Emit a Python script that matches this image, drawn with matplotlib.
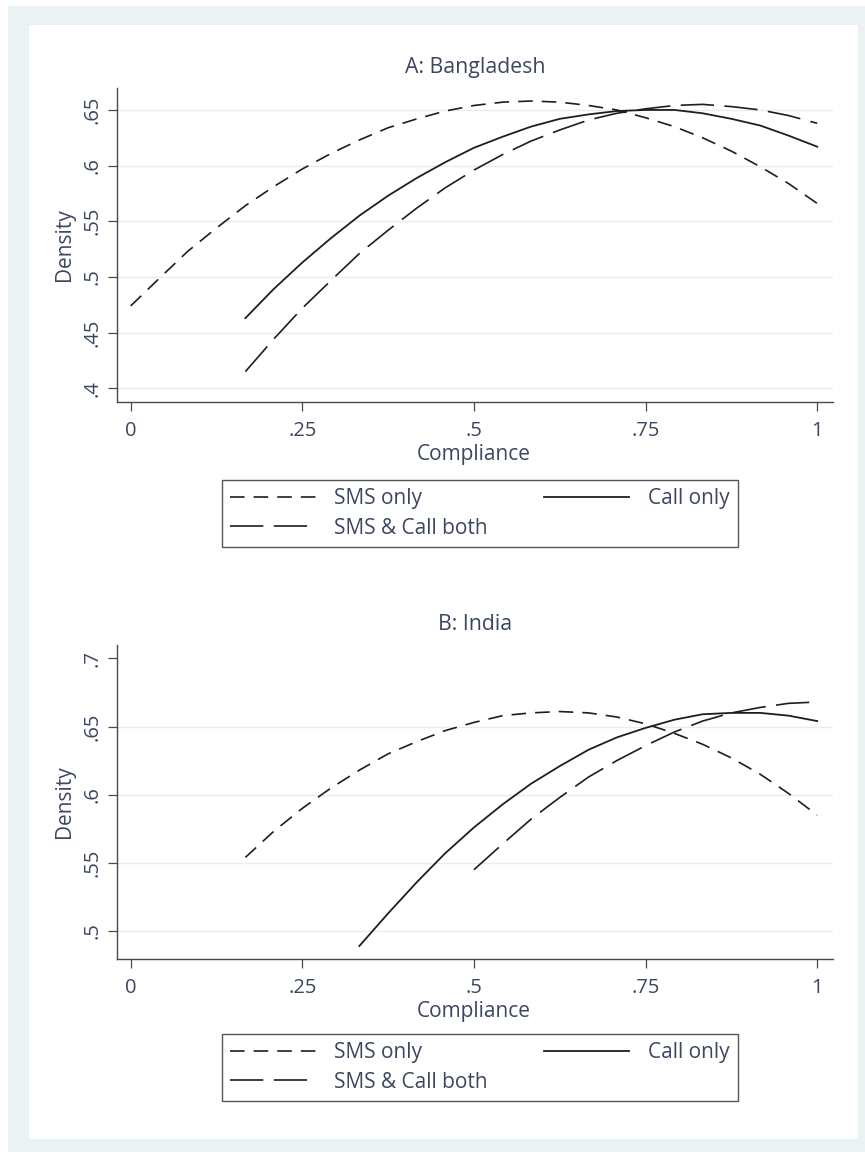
import matplotlib.pyplot as plt
from matplotlib.patches import Rectangle

plt.rcParams['font.family'] = ['Open Sans', 'DejaVu Sans']
plt.rcParams['lines.scale_dashes'] = False

# compliance levels (1/24 steps) the fitted curves were read at
compliance = [0, 0.042, 0.083, 0.125, 0.167, 0.208, 0.25, 0.292, 0.333, 0.375, 0.417, 0.458,
              0.5, 0.542, 0.583, 0.625, 0.667, 0.708, 0.75, 0.792, 0.833, 0.875, 0.917, 0.958, 1]

# A: Bangladesh
bd_sms = [0.474, 0.499, 0.523, 0.544, 0.564, 0.581, 0.597, 0.611, 0.623, 0.634, 0.642, 0.649,
          0.654, 0.657, 0.658, 0.657, 0.654, 0.650, 0.643, 0.635, 0.625, 0.613, 0.599, 0.584, 0.566]
bd_call = [0.463, 0.489, 0.513, 0.535, 0.555, 0.573, 0.589, 0.603, 0.616, 0.626, 0.635,
           0.642, 0.646, 0.649, 0.650, 0.650, 0.647, 0.642, 0.636, 0.627, 0.617]
bd_both = [0.415, 0.444, 0.472, 0.497, 0.521, 0.542, 0.562, 0.580, 0.596, 0.610, 0.622,
           0.632, 0.641, 0.647, 0.651, 0.654, 0.655, 0.653, 0.650, 0.645, 0.638]

# B: India
in_sms = [0.554, 0.573, 0.590, 0.605, 0.618, 0.630, 0.639, 0.647, 0.653, 0.658, 0.660,
          0.661, 0.660, 0.657, 0.652, 0.645, 0.637, 0.627, 0.615, 0.601, 0.585]
in_call = [0.489, 0.513, 0.536, 0.557, 0.576, 0.593, 0.608, 0.621, 0.633, 0.642, 0.649,
           0.655, 0.659, 0.660, 0.660, 0.658, 0.654]
in_both = [0.545, 0.564, 0.582, 0.598, 0.613, 0.625, 0.636, 0.646, 0.654, 0.660, 0.664,
           0.667, 0.668]

x_ticks = [0, 0.25, 0.5, 0.75, 1]
x_tick_labels = ['0', '.25', '.5', '.75', '1']
bd_yticks = [0.4, 0.45, 0.5, 0.55, 0.6, 0.65]
bd_ylabels = ['.4', '.45', '.5', '.55', '.6', '.65']
in_yticks = [0.5, 0.55, 0.6, 0.65, 0.7]
in_ylabels = ['.5', '.55', '.6', '.65', '.7']

text_color = '#3c4660'
grid_color = '#e4edf0'
bg_color = '#eaf2f3'
axis_color = '#4a4a4a'
line_color = '#1e1e1e'

W, H = 865, 1152
fig = plt.figure(figsize=(W / 100, H / 100), dpi=100)
fig.patch.set_facecolor('white')
fig.patches.append(Rectangle((8 / W, 0), 1, 1 - 6 / H, transform=fig.transFigure,
                             facecolor=bg_color, edgecolor='none', zorder=-2))
fig.patches.append(Rectangle((29 / W, 1 - 1139 / H), (858 - 29) / W, (1139 - 25) / H,
                             transform=fig.transFigure, facecolor='white',
                             edgecolor='none', zorder=-1))


def px_axes(left, top, right, bottom):
    return fig.add_axes([left / W, 1 - bottom / H, (right - left) / W, (bottom - top) / H])


def draw_panel(ax, sms, call, both, yticks, ylabels, ylim, grid_vals, title, legend_top):
    ax.set_facecolor('none')
    for v in grid_vals:
        ax.axhline(v, color=grid_color, lw=1.0, zorder=0)
    l_sms, = ax.plot(compliance[-len(sms):], sms, color=line_color, lw=1.2, dashes=(10.5, 6.5))
    l_call, = ax.plot(compliance[-len(call):], call, color=line_color, lw=1.3)
    l_both, = ax.plot(compliance[-len(both):], both, color=line_color, lw=1.2, dashes=(24, 7.5))

    ax.set_xlim(-0.02, 1.023)
    ax.set_ylim(*ylim)
    ax.set_xticks(x_ticks, x_tick_labels)
    ax.set_yticks(yticks, ylabels, rotation=90, va='center')
    ax.spines[['top', 'right']].set_visible(False)
    ax.spines[['left', 'bottom']].set_color(axis_color)
    ax.spines[['left', 'bottom']].set_linewidth(1.0)
    ax.tick_params(direction='out', length=6.5, width=0.9, color=axis_color,
                   labelsize=14.5, labelcolor=text_color)
    ax.tick_params(axis='x', pad=7)
    ax.tick_params(axis='y', pad=4)

    ax.text(0.5, 1.064, title, transform=ax.transAxes, ha='center', va='center',
            fontsize=15.3, color=text_color)
    ax.text(-0.074, 0.5, 'Density', transform=ax.transAxes, rotation=90,
            ha='center', va='center', fontsize=15, color=text_color)
    ax.text(0.4986, -0.166, 'Compliance', transform=ax.transAxes,
            ha='center', va='center', fontsize=15, color=text_color)

    leg = ax.legend([l_sms, l_both, l_call], ['SMS only', 'SMS & Call both', 'Call only'],
                    ncol=2, mode='expand', loc='center',
                    bbox_to_anchor=(222 / W, 1 - (legend_top + 75) / H, 516 / W, 75 / H),
                    bbox_transform=fig.transFigure, borderaxespad=0,
                    fontsize=15, labelcolor=text_color, handlelength=4.1,
                    handletextpad=0.9, borderpad=0.4, labelspacing=0.4,
                    fancybox=False, framealpha=1, edgecolor='#555555')
    leg.get_frame().set_linewidth(1.0)


ax_a = px_axes(117, 88, 833, 402)
draw_panel(ax_a, bd_sms, bd_call, bd_both, bd_yticks, bd_ylabels, (0.3877, 0.6697),
           bd_yticks, 'A: Bangladesh', 476)

ax_b = px_axes(117, 645, 833, 959)
draw_panel(ax_b, in_sms, in_call, in_both, in_yticks, in_ylabels, (0.4795, 0.7098),
           in_yticks[:-1], 'B: India', 1030)

fig.savefig('out.png', dpi=100, facecolor=fig.get_facecolor())
